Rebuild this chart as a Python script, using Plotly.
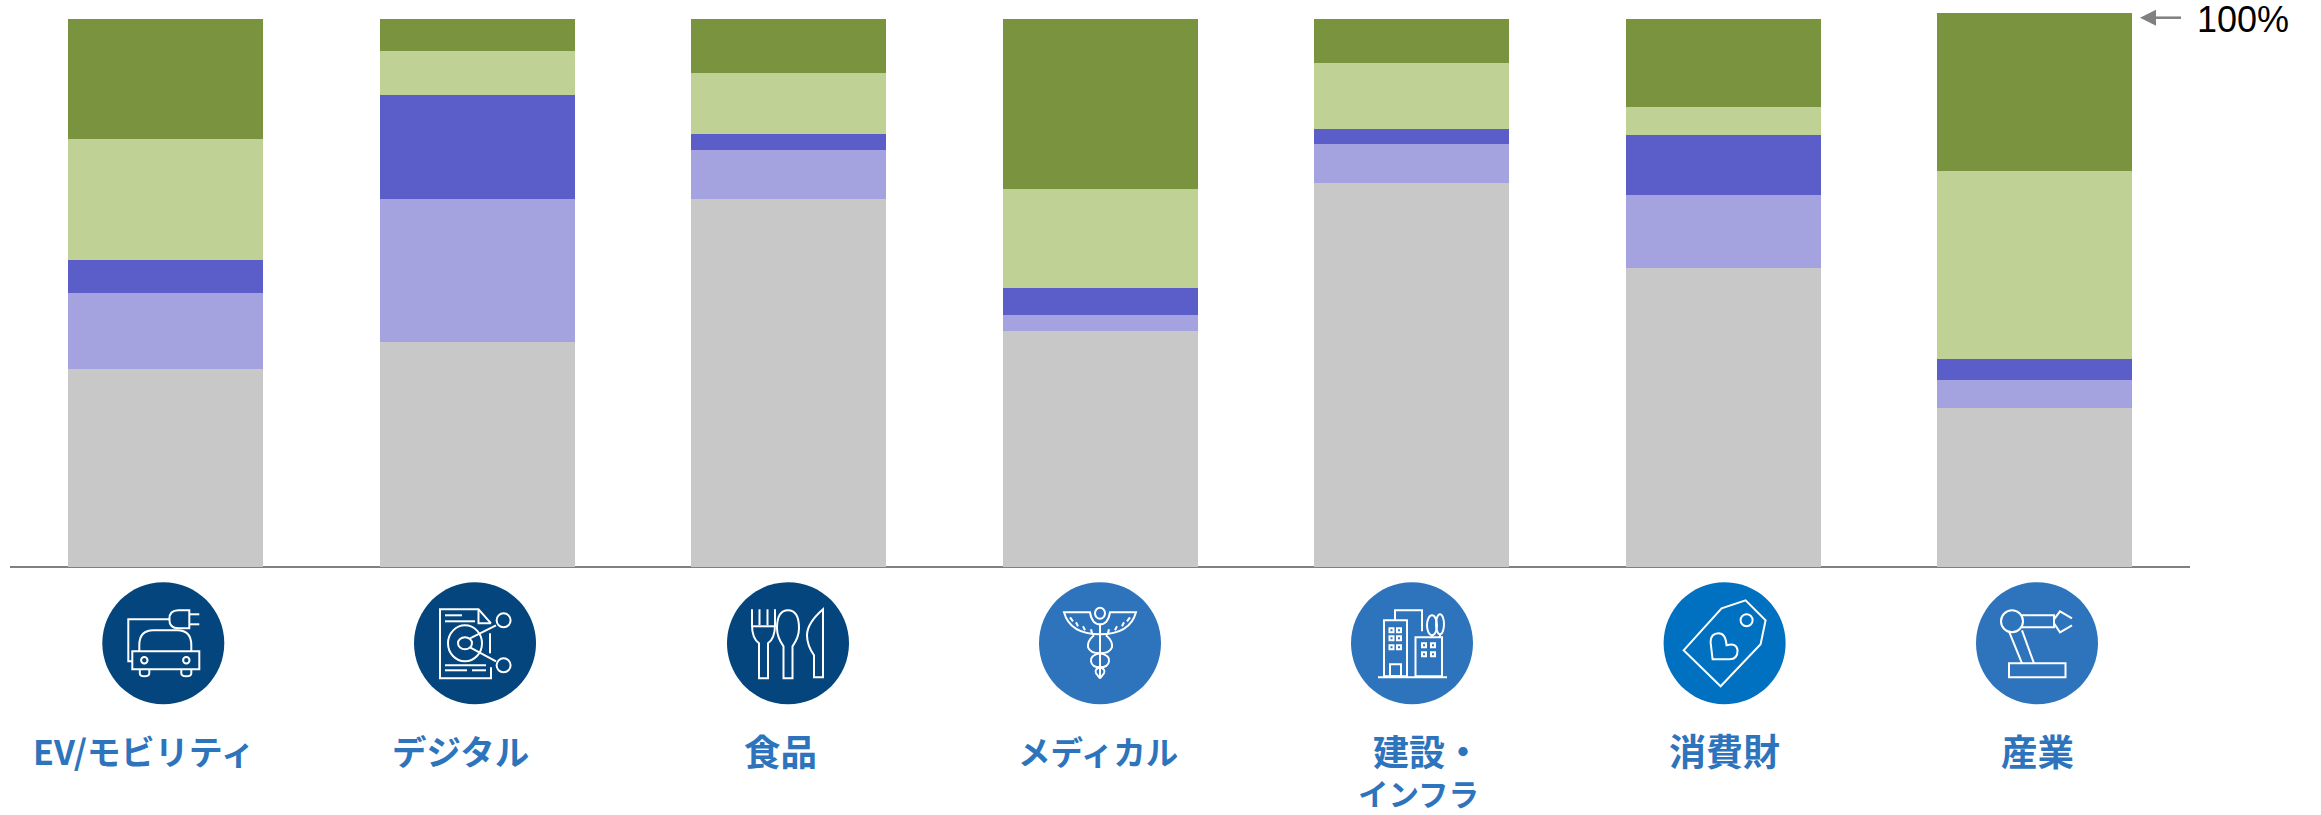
import re
import plotly.graph_objects as go

W, H = 2321, 815

# Data: share of each band per sector, bottom to top (percent of the tallest column)
categories = ["EV/モビリティ", "デジタル", "食品", "メディカル", "建設・<br>インフラ", "消費財", "産業"]
band_grey = [35.7, 40.6, 66.4, 42.6, 69.3, 54.0, 28.7]
band_light_purple = [13.8, 25.8, 8.8, 2.9, 7.0, 13.1, 5.1]
band_purple = [6.0, 18.8, 2.9, 4.9, 2.8, 10.9, 3.8]
band_light_green = [21.8, 8.0, 11.0, 17.9, 11.9, 5.0, 33.8]
band_green = [21.7, 5.8, 9.9, 30.7, 8.0, 16.0, 28.6]

# Styling
BAND_COLORS = ["#C8C8C8", "#A4A3E0", "#5B5DC8", "#BFD194", "#7A933F"]
NAVY, MID_BLUE, BRIGHT_BLUE = "#03457C", "#2E74BC", "#0070C0"
BADGE_COLORS = [NAVY, NAVY, NAVY, MID_BLUE, MID_BLUE, BRIGHT_BLUE, MID_BLUE]
BADGE_X = [163.3, 475, 788, 1100, 1412, 1724.6, 2037]
BADGE_Y, BADGE_R = 643.3, 61
LABEL_X = [144, 460, 780, 1098, 1427, 1724, 2037]
LABEL_SIZE = [34, 34.5, 36.5, 32.5, 36, 37, 36.5]
SECOND_LINE_X, SECOND_LINE_SIZE = 1418, 30.5
LABEL_Y, SECOND_LINE_Y = 750, 792.5

PITCH, FIRST_CENTER, BAR_W = 311.5, 165.5, 195
AXIS_L, AXIS_R, BASE_Y, TOP_Y = 10, 2190, 567, 13


def to_paper(path, cx=0.0, cy=0.0):
    """Convert an absolute M/L/Q/C path in local pixels to paper coordinates."""
    is_x = [True]

    def repl(m):
        v = float(m.group(0))
        if is_x[0]:
            r = (cx + v) / W
        else:
            r = 1 - (cy + v) / H
        is_x[0] = not is_x[0]
        return f"{r:.6f}"

    return re.sub(r"-?\d+(?:\.\d+)?", repl, path)


def circle(x, y, r, ry=None):
    ry = r if ry is None else ry
    k = 0.5523
    return (
        f"M {x - r},{y} C {x - r},{y - k * ry} {x - k * r},{y - ry} {x},{y - ry} "
        f"C {x + k * r},{y - ry} {x + r},{y - k * ry} {x + r},{y} "
        f"C {x + r},{y + k * ry} {x + k * r},{y + ry} {x},{y + ry} "
        f"C {x - k * r},{y + ry} {x - r},{y + k * ry} {x - r},{y} Z"
    )


def rect(x0, y0, x1, y1):
    return f"M {x0},{y0} L {x1},{y0} L {x1},{y1} L {x0},{y1} Z"


# Outline icons, each drawn around its badge centre
ICON_CAR = [
    rect(-31, 8, 36, 26),
    "M -24,8 L -24,2 Q -24,-13 -10,-13 L 14,-13 Q 28,-13 28,2 L 28,8",
    "M -23.5,26 L -23.5,30 Q -23.5,33 -19,33 Q -14,33 -14,30 L -14,26",
    "M 18,26 L 18,30 Q 18,33 23,33 Q 28,33 28,30 L 28,26",
    circle(-19, 17, 3.2), circle(23, 17, 3.2),
    "M 7,-24 L -35,-24 L -35,18 L -31,18",
    "M 26,-33 L 15,-33 Q 6,-33 6,-24 Q 6,-15 15,-15 L 26,-15 Z",
    "M 26,-29 L 36,-29", "M 26,-19 L 36,-19",
]
ICON_DOC = [
    "M 16,-20 L 3.5,-34 L -35,-34 L -35,35 L 16,35 L 16,24",
    "M 3.5,-34 L 3.5,-20 L 16,-20",
    "M -30,-28 L -13,-28", "M -30,-22 L 0,-22",
    "M -30,22 L 11,22", "M -30,27 L -8,27", "M -3,27 L 11,27",
    circle(-10, 0, 17, 18), circle(-10, 0, 7, 6),
    circle(28.6, -23, 7), circle(28.6, 22, 7),
    "M -5,-5 L 21,-18", "M -5,4 L 21,18", "M 15,-10 L 15,10",
]
ICON_CUTLERY = [
    "M -36,-34 L -36,-18 Q -36,-5 -29,0 L -29,35 L -20,35 L -20,0 Q -13,-5 -13,-18 L -13,-34",
    "M -28.5,-34 L -28.5,-18", "M -20.5,-34 L -20.5,-18", "M -36,-17 L -13,-17",
    "M -4.5,35 L -4.5,3 Q -11,-6 -11,-15 Q -11,-33 0,-33 Q 11,-33 11,-15 Q 11,-6 4.5,3 L 4.5,35 Z",
    "M 35,-34 Q 19,-20 19,-8 Q 19,2 26,12 L 26,34 L 35,34 Z",
]
ICON_CADUCEUS = [
    "M -36,-31 L -10,-31 Q -8,-19 0,-19 Q 8,-19 10,-31 L 36,-31 Q 30,-9 0,-9 Q -30,-9 -36,-31 Z",
    circle(0, -30, 5, 5.5),
    "M 0,-19 L 0,35",
    "M -6,-8 Q -13,-2 -12,4 Q -10,10 0,10 Q 10,12 9,18 Q 8,24 0,24 Q -6,26 -4,30 L 0,35",
    "M 6,-8 Q 13,-2 12,4 Q 10,10 0,10 Q -10,12 -9,18 Q -8,24 0,24 Q 6,26 4,30 L 0,35",
    "M -30,-26 L -27,-22", "M -24,-21 L -22,-17", "M -17,-17 L -15,-13", "M -9,-14 L -8,-10",
    "M 30,-26 L 27,-22", "M 24,-21 L 22,-17", "M 17,-17 L 15,-13", "M 9,-14 L 8,-10",
]
ICON_CITY = [
    rect(-28, -23, -5, 33), rect(3.5, -6, 30, 33),
    "M -34,34 L 35,34",
    "M -17,-23 L -17,-33 L 10,-33 L 10,-12",
    rect(-22, 21, -11, 33),
    circle(20, -18, 5, 10), circle(28, -19, 4, 10),
    "M 20,-8 L 20,-6", "M 28,-9 L 28,-6",
] + [rect(x - 2, y - 2, x + 2, y + 2) for x in (-20.5, -13) for y in (-13, -5, 4)] \
  + [rect(x - 2, y - 2, x + 2, y + 2) for x in (12, 21) for y in (2, 11)]
ICON_TAG = [
    "M -41,7 L -3,-35 L 21,-43 L 41,-23 L 36,1 L -4,43 Z",
    circle(22, -23, 6),
    "M -12,16 L -14,-1 Q -14,-10 -6,-10 Q 1,-10 2,2 Q 12,-1 13,7 Q 13,16 5,16 Z",
]
ICON_ROBOT = [
    rect(-28, 20, 28.5, 34),
    circle(-25, -22, 11),
    "M -15,-28 L 17,-28 L 17,-16 L -15,-16",
    "M 17,-24 L 23,-32 L 35,-25", "M 17,-20 L 23,-11 L 35,-18",
    "M -28,-12 L -15,20", "M -15,-13 L -3,20",
]
ICONS = [ICON_CAR, ICON_DOC, ICON_CUTLERY, ICON_CADUCEUS, ICON_CITY, ICON_TAG, ICON_ROBOT]

fig = go.Figure()
bands = [band_grey, band_light_purple, band_purple, band_light_green, band_green]
for values, color in zip(bands, BAND_COLORS):
    fig.add_bar(x=list(range(len(categories))), y=values, marker=dict(color=color, line_width=0),
                width=BAR_W / PITCH, hoverinfo="skip", showlegend=False)

shapes = []
for cx, color, icon in zip(BADGE_X, BADGE_COLORS, ICONS):
    shapes.append(dict(type="path", xref="paper", yref="paper", line_width=0, fillcolor=color,
                       path=to_paper(circle(0, 0, BADGE_R), cx, BADGE_Y)))
    for part in icon:
        shapes.append(dict(type="path", xref="paper", yref="paper",
                           line=dict(color="white", width=2),
                           path=to_paper(part, cx, BADGE_Y)))

# Pointer to the top of the tallest column
shapes.append(dict(type="path", xref="paper", yref="paper", line=dict(color="#808080", width=2.5),
                   path=to_paper("M 2153,17.7 L 2181,17.7")))
shapes.append(dict(type="path", xref="paper", yref="paper", line_width=0, fillcolor="#808080",
                   path=to_paper("M 2140,17.7 L 2156,9.7 L 2156,25.7 Z")))


def label_note(text, x, y, size):
    return dict(text=text, xref="paper", yref="paper", x=x / W, y=1 - y / H,
                xanchor="center", yanchor="middle", showarrow=False,
                font=dict(family="Noto Sans CJK JP", size=size, color=MID_BLUE, weight="bold"))


annotations = []
for label, lx, size in zip(categories, LABEL_X, LABEL_SIZE):
    lines = label.split("<br>")
    annotations.append(label_note(lines[0], lx, LABEL_Y, size))
    if len(lines) > 1:
        annotations.append(label_note(lines[1], SECOND_LINE_X, SECOND_LINE_Y, SECOND_LINE_SIZE))

annotations.append(dict(text="100%", xref="paper", yref="paper", x=2195 / W, y=1 - 20 / H,
                        xanchor="left", yanchor="middle", showarrow=False,
                        font=dict(family="Liberation Sans", size=36, color="#000000")))

fig.update_layout(
    width=W, height=H, margin=dict(l=0, r=0, t=0, b=0), autosize=False,
    paper_bgcolor="white", plot_bgcolor="white", barmode="stack", showlegend=False,
    shapes=shapes, annotations=annotations,
    xaxis=dict(domain=[AXIS_L / W, AXIS_R / W],
               range=[(AXIS_L - FIRST_CENTER) / PITCH, (AXIS_R - FIRST_CENTER) / PITCH],
               showgrid=False, zeroline=False, showticklabels=False, ticks="",
               showline=False),
    yaxis=dict(domain=[1 - BASE_Y / H, 1 - TOP_Y / H], range=[0, 100], showgrid=False,
               zeroline=True, zerolinecolor="#808080", zerolinewidth=1.5,
               showticklabels=False, ticks="", showline=False),
)

fig.write_html("out.html")
